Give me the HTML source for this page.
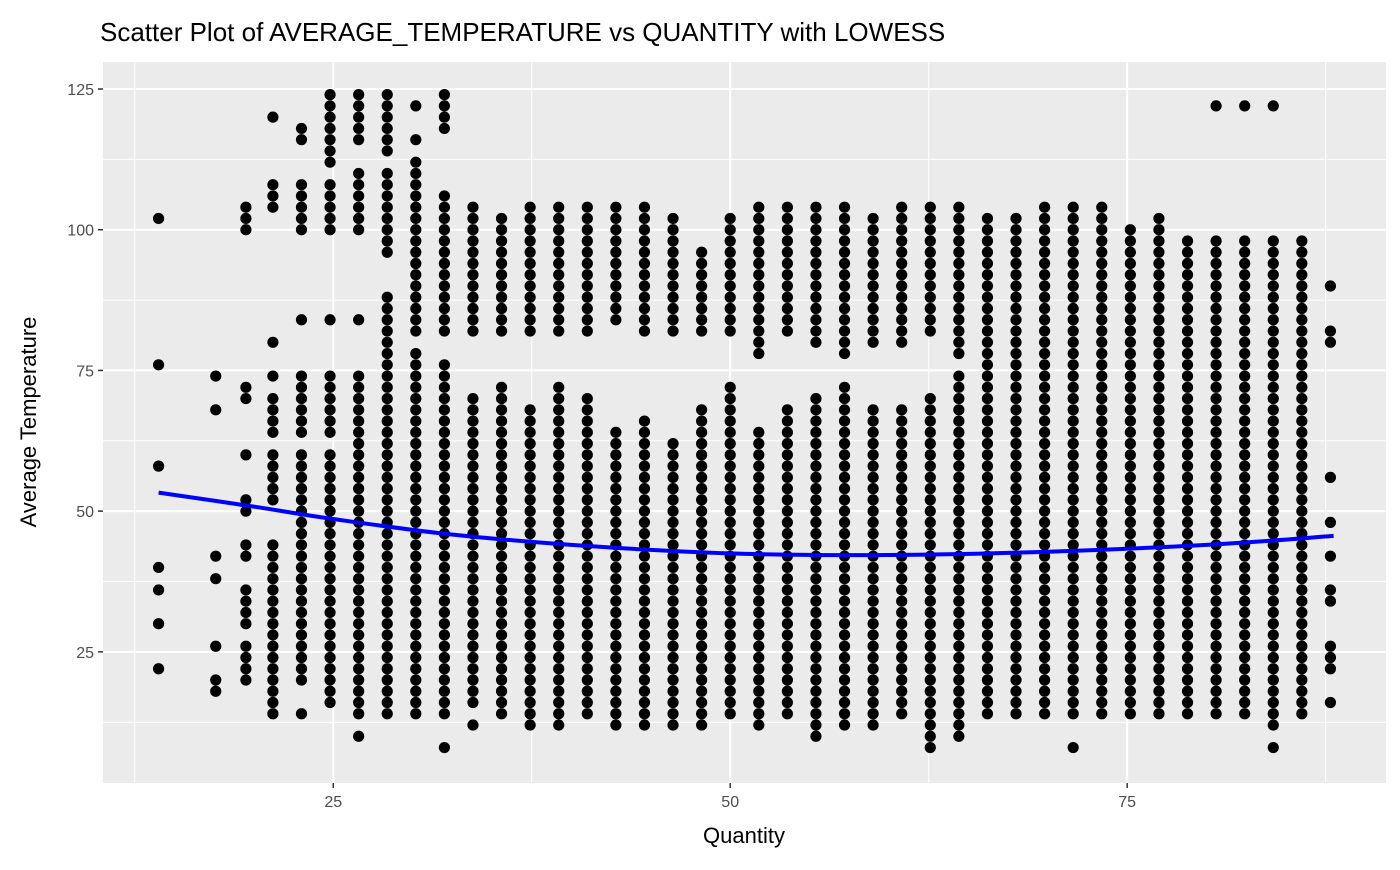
<!DOCTYPE html>
<html><head><meta charset="utf-8"><style>
body{margin:0;background:#fff;font-family:"Liberation Sans",Arial,sans-serif}
svg text{font-family:"Liberation Sans",Arial,sans-serif}
</style></head><body>
<svg id="chart" width="1400" height="865" xmlns="http://www.w3.org/2000/svg">
<rect width="1400" height="865" fill="#fff"/>
<text x="100" y="41" font-size="26" fill="#000">Scatter Plot of AVERAGE_TEMPERATURE vs QUANTITY with LOWESS</text>
<rect x="103" y="62" width="1283" height="721" fill="#ebebeb"/>
<g id="grid"></g>
<g id="points"></g>
<path id="lowess" fill="none" stroke="#0000ff" stroke-width="4"/>
<g id="axes"></g>
<text x="744" y="843" font-size="22" text-anchor="middle">Quantity</text>
<text transform="translate(36,422) rotate(-90)" font-size="22" text-anchor="middle">Average Temperature</text>
</svg>
<script>
const quantities=[14.0,17.6,19.5,21.2,23.0,24.8,26.6,28.4,30.2,32.0,33.8,35.6,37.4,39.2,41.0,42.8,44.6,46.4,48.2,50.0,51.8,53.6,55.4,57.2,59.0,60.8,62.6,64.4,66.2,68.0,69.8,71.6,73.4,75.2,77.0,78.8,80.6,82.4,84.2,86.0,87.8];
const tempRanges=[
[[22,22],[30,30],[36,36],[40,40],[58,58],[76,76],[102,102]],
[[18,20],[26,26],[38,38],[42,42],[68,68],[74,74]],
[[20,26],[30,36],[42,44],[50,52],[60,60],[70,72],[100,104]],
[[14,44],[52,60],[64,70],[74,74],[80,80],[104,108],[120,120]],
[[14,14],[20,60],[64,74],[84,84],[100,108],[116,118]],
[[16,60],[64,74],[84,84],[100,108],[112,124]],
[[10,10],[14,74],[84,84],[100,110],[116,124]],
[[14,88],[96,110],[114,124]],
[[14,78],[82,112],[116,116],[122,122]],
[[8,8],[14,76],[82,106],[118,124]],
[[12,12],[16,70],[82,104]],
[[14,72],[82,102]],
[[12,68],[82,104]],
[[12,72],[82,104]],
[[14,70],[82,104]],
[[12,64],[84,104]],
[[12,66],[82,104]],
[[12,62],[82,102]],
[[12,68],[82,96]],
[[14,72],[82,102]],
[[12,64],[78,104]],
[[14,68],[82,104]],
[[10,70],[80,104]],
[[12,72],[78,104]],
[[12,68],[80,102]],
[[14,68],[80,104]],
[[8,70],[82,104]],
[[10,74],[78,104]],
[[14,74],[76,102]],
[[14,102]],
[[14,104]],
[[8,8],[14,104]],
[[14,104]],
[[14,100]],
[[14,102]],
[[14,98]],
[[14,98],[122,122]],
[[14,98],[122,122]],
[[8,8],[12,98],[122,122]],
[[14,98]],
[[16,16],[22,26],[34,36],[42,42],[48,48],[56,56],[80,82],[90,90]]
];
const lowessX=[14,20,25,32,40,50,60,70,80,88];
const lowessY=[53.3,50.8,48.6,46.0,44.0,42.5,42.2,42.8,44.0,45.6];
const xTicks=[25,50,75];
const yTicks=[25,50,75,100,125];

const X0=103,X1=1386,Y0=783,Y1=62,XMIN=10.5,XMAX=91.3,YMIN=1.7,YMAX=129.8;
const sx=v=>X0+(v-XMIN)/(XMAX-XMIN)*(X1-X0);
const sy=v=>Y0-(v-YMIN)/(YMAX-YMIN)*(Y0-Y1);
const NS="http://www.w3.org/2000/svg";
function mk(tag,attrs,parent){const e=document.createElementNS(NS,tag);for(const k in attrs)e.setAttribute(k,attrs[k]);parent.appendChild(e);return e;}
const grid=document.getElementById('grid'),axes=document.getElementById('axes'),pts=document.getElementById('points');
for(let i=0;i<xTicks.length+1;i++){const v=xTicks[0]-12.5+i*25;const l=mk('line',{x1:sx(v),x2:sx(v),y1:Y1,y2:Y0,stroke:'#fff','stroke-width':1},grid);

}
for(let i=0;i<yTicks.length;i++){const v=yTicks[0]-12.5+i*25;const l=mk('line',{x1:X0,x2:X1,y1:sy(v),y2:sy(v),stroke:'#fff','stroke-width':1},grid);

}
xTicks.forEach(v=>{const l=mk('line',{x1:sx(v),x2:sx(v),y1:Y1,y2:Y0,stroke:'#fff','stroke-width':2},grid);


const t=mk('line',{x1:sx(v),x2:sx(v),y1:Y0,y2:Y0+5,stroke:'#333','stroke-width':1.5},axes);


const tx=mk('text',{x:sx(v),y:Y0+24,'font-size':16,fill:'#4d4d4d','text-anchor':'middle'},axes);tx.textContent=v;

});
yTicks.forEach(v=>{const l=mk('line',{x1:X0,x2:X1,y1:sy(v),y2:sy(v),stroke:'#fff','stroke-width':2},grid);


const t=mk('line',{x1:X0-5,x2:X0,y1:sy(v),y2:sy(v),stroke:'#333','stroke-width':1.5},axes);


const tx=mk('text',{x:X0-9,y:sy(v)+6,'font-size':16,fill:'#4d4d4d','text-anchor':'end'},axes);tx.textContent=v;

});
quantities.forEach((q,i)=>{tempRanges[i].forEach(r=>{for(let t=r[0];t<=r[1];t+=2){const c=mk('circle',{cx:sx(q),cy:sy(t),r:5.6,fill:'#000'},pts);

}});});
// Catmull-Rom smooth curve through lowess points
const P=lowessX.map((x,i)=>[sx(x),sy(lowessY[i])]);
let d='M'+P[0][0].toFixed(1)+','+P[0][1].toFixed(1);
for(let i=0;i<P.length-1;i++){const p0=P[i-1]||P[i],p1=P[i],p2=P[i+1],p3=P[i+2]||P[i+1];
const c1=[p1[0]+(p2[0]-p0[0])/6,p1[1]+(p2[1]-p0[1])/6],c2=[p2[0]-(p3[0]-p1[0])/6,p2[1]-(p3[1]-p1[1])/6];
d+='C'+c1[0].toFixed(1)+','+c1[1].toFixed(1)+' '+c2[0].toFixed(1)+','+c2[1].toFixed(1)+' '+p2[0].toFixed(1)+','+p2[1].toFixed(1);}
document.getElementById('lowess').setAttribute('d',d);
</script>
</body></html>
